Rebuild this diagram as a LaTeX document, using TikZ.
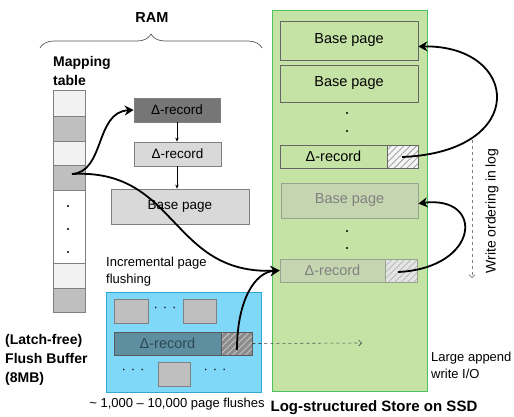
\documentclass[tikz,border=0pt]{standalone}
\usepackage{fontspec}
\setmainfont{Liberation Sans}
\usetikzlibrary{arrows.meta,patterns.meta,decorations.pathreplacing}
\definecolor{celllight}{HTML}{F2F2F2}
\definecolor{cellgray}{HTML}{BFBFBF}
\definecolor{cellborder}{HTML}{808080}
\definecolor{darkrec}{HTML}{767676}
\definecolor{lightrec}{HTML}{D9D9D9}
\definecolor{bufblue}{HTML}{80D8F8}
\definecolor{bufborder}{HTML}{2FA8D8}
\definecolor{bartealA}{HTML}{5E8FA0}
\definecolor{bartext}{HTML}{2F4A55}
\definecolor{ssdgreen}{HTML}{C6E3A6}
\definecolor{ssdborder}{HTML}{4CC35C}
\definecolor{fadefill}{HTML}{C5D5B0}
\definecolor{fadeborder}{HTML}{98A290}
\definecolor{fadetext}{HTML}{808080}
\definecolor{hatchgray}{HTML}{8C8C8C}
\begin{document}
\begin{tikzpicture}[x=1pt,y=-1pt,
  normaltext/.style={font=\fontsize{13}{16}\selectfont, inner sep=0pt},
  boldtext/.style={font=\fontsize{14}{19}\selectfont\bfseries, inner sep=0pt},
  cellbox/.style={draw=cellborder, line width=0.6pt, minimum width=32pt, inner sep=0pt},
  rambox/.style={draw=cellborder, line width=0.8pt, inner sep=0pt, text=black, font=\fontsize{13.5}{16}\selectfont},
  ssdbox/.style={draw=black!60, line width=0.8pt, fill=ssdgreen, inner sep=0pt, font=\fontsize{14.5}{17}\selectfont},
  fadebox/.style={draw=fadeborder, line width=0.8pt, fill=fadefill, inner sep=0pt, text=fadetext, font=\fontsize{14.5}{17}\selectfont},
  hatchlight/.style={draw=black!60, line width=0.8pt, inner sep=0pt, preaction={fill=white!92!gray},
     pattern={Lines[angle=45,distance=4.5pt,line width=0.9pt]}, pattern color=gray!70},
  hatchfade/.style={draw=fadeborder, line width=0.8pt, inner sep=0pt, preaction={fill=gray!20},
     pattern={Lines[angle=45,distance=4.5pt,line width=0.9pt]}, pattern color=gray!55},
  hatchdark/.style={draw=cellborder!70!black, line width=0.8pt, inner sep=0pt, preaction={fill=hatchgray},
     pattern={Lines[angle=45,distance=4.5pt,line width=0.9pt]}, pattern color=gray!45},
  thickarrow/.style={line width=1.8pt, -{Stealth[length=9pt,width=10pt,inset=3pt]}},
  thinarrow/.style={line width=0.6pt, -{Stealth[length=4pt,width=3.5pt]}},
  dot/.style={circle, fill=black, inner sep=0pt, minimum size=2.4pt}
]
\useasboundingbox (0,0) rectangle (514,416);

% ---------- RAM label and brace ----------
\node[boldtext, font=\fontsize{14.5}{19}\selectfont\bfseries] (ram) at (152,18) {RAM};
\coordinate (braceL) at (40,48);
\coordinate (braceR) at (262,48);
\draw[black!65, line width=0.7pt, decorate, decoration={brace, amplitude=14pt, aspect=0.5}] (braceL) -- (braceR);

% ---------- Mapping table ----------
\node[boldtext, anchor=west, align=left] (maplabel) at (53,71) {Mapping\\table};
\node[cellbox, fill=celllight, minimum height=26pt] (mt1) at (69,103) {};
\node[cellbox, fill=cellgray, minimum height=25pt] (mt2) at (69,128.5) {};
\node[cellbox, fill=celllight, minimum height=24pt] (mt3) at (69,153) {};
\node[cellbox, fill=cellgray, minimum height=25pt] (mt4) at (69,177.5) {};
\node[cellbox, fill=white, minimum height=73pt] (mt5) at (69,226.5) {};
\node[cellbox, fill=celllight, minimum height=25pt] (mt6) at (69,275.5) {};
\node[cellbox, fill=cellgray, minimum height=24pt] (mt7) at (69,300) {};
\node[dot] (mtd1) at (68,206) {};
\node[dot] (mtd2) at (68,229) {};
\node[dot] (mtd3) at (68,252) {};

% ---------- RAM chain ----------
\node[rambox, fill=darkrec, minimum width=86pt, minimum height=24pt] (dr1) at (177,110) {Δ-record};
\node[rambox, fill=lightrec, minimum width=87pt, minimum height=24pt] (dr2) at (177.5,154) {Δ-record};
\node[rambox, fill=lightrec, minimum width=138pt, minimum height=35pt] (bp) at (180,206.5) {Base page};
\draw[thinarrow] (dr1.south -| 177,0) -- (dr2.north -| 177,0);
\draw[thinarrow] (dr2.south -| 177,0) -- (bp.north -| 177,0);

% ---------- Flush buffer ----------
\node[normaltext, anchor=west, align=left, font=\fontsize{13}{17}\selectfont] (inclabel) at (106,271.5) {Incremental page\\flushing};
\node[draw=bufborder, line width=0.8pt, fill=bufblue, minimum width=155pt, minimum height=100pt, inner sep=0pt] (buf) at (183.5,342) {};
\node[rambox, fill=cellgray, minimum width=34pt, minimum height=24pt] (sq1) at (131,311) {};
\node[rambox, fill=cellgray, minimum width=33pt, minimum height=24pt] (sq2) at (199.5,311) {};
\node[normaltext] (bdots1) at (165,309) {·\hspace{5pt}·\hspace{5pt}·};
\node[rambox, draw=cellborder!70!black, fill=bartealA, text=bartext, minimum width=107pt, minimum height=23pt, font=\fontsize{14.5}{17}\selectfont] (bar) at (167.5,343.5) {Δ-record};
\node[hatchdark, minimum width=31pt, minimum height=23pt] (barh) at (236.5,343.5) {};
\node[normaltext] (bdots2) at (133,371) {·\hspace{5pt}·\hspace{5pt}·};
\node[rambox, fill=cellgray, minimum width=32pt, minimum height=24pt] (sq3) at (174,374) {};
\node[normaltext] (bdots3) at (215,371) {·\hspace{5pt}·\hspace{5pt}·};
\node[boldtext, anchor=west, align=left] (flushlabel) at (5,360) {(Latch-free)\\Flush Buffer\\(8MB)};
\node[normaltext] (flushcount) at (177,404) {\textasciitilde\ 1,000 – 10,000 page flushes};

% ---------- SSD log ----------
\node[draw=ssdborder, line width=0.9pt, fill=ssdgreen, minimum width=155pt, minimum height=381pt, inner sep=0pt] (ssd) at (349.5,200.5) {};
\node[ssdbox, minimum width=138pt, minimum height=39pt] (bp1) at (349,40.5) {Base page};
\node[ssdbox, minimum width=138pt, minimum height=37pt] (bp2) at (349,83.5) {Base page};
\node[dot] (sd1) at (347,113) {};
\node[dot] (sd2) at (347,131) {};
\node[ssdbox, minimum width=107pt, minimum height=23pt] (dd1) at (333.5,156.5) {Δ-record};
\node[hatchlight, minimum width=31pt, minimum height=23pt] (dd1h) at (402.5,156.5) {};
\node[fadebox, minimum width=137pt, minimum height=35pt] (bp3) at (349.5,200.5) {Base page};
\node[dot] (sd3) at (347,231) {};
\node[dot] (sd4) at (347,248) {};
\node[fadebox, minimum width=105pt, minimum height=23pt] (dd2) at (332.5,270.5) {Δ-record};
\node[hatchfade, minimum width=32pt, minimum height=23pt] (dd2h) at (401,270.5) {};

\node[boldtext, font=\fontsize{15}{18}\selectfont\bfseries] (ssdlabel) at (374,408) {Log-structured Store on SSD};
\node[normaltext, anchor=west, align=left, font=\fontsize{13}{17}\selectfont] (applabel) at (431,365.5) {Large append\\write I/O};

% write ordering
\coordinate (wtop) at (472,140);
\coordinate (wbot) at (472,278);
\draw[gray, line width=0.6pt, dashed, -{Straight Barb[length=3pt,width=6pt]}] (wtop) -- (wbot);
\node[normaltext, rotate=90, font=\fontsize{14}{17}\selectfont] (wlabel) at (492,211) {Write ordering in log};

% dashed flush arrow
\coordinate (flushend) at (362,343);
\draw[black!70, line width=0.6pt, dashed, -{Straight Barb[length=3pt,width=6pt]}] (barh.east) -- (flushend);

% ---------- thick curved arrows ----------
\coordinate (mtstart) at (72,174);
\draw[thickarrow] (mtstart) .. controls (105,172) and (95,112) .. (dr1.west);
\draw[thickarrow] (mtstart) .. controls (178,168) and (170,275) .. (dd2.west);
\coordinate (barstart) at (237,350);
\draw[thickarrow] (barstart) .. controls (237,300) and (255,272) .. (dd2.west);
\coordinate (dd1start) at (402,157);
\draw[thickarrow] (dd1start) .. controls (530,152) and (520,45) .. ([yshift=-6pt]bp1.east);
\coordinate (dd2start) at (398,272);
\draw[thickarrow] (dd2start) .. controls (480,268) and (485,195) .. ([yshift=-3pt]bp3.east);
\end{tikzpicture}
\end{document}
